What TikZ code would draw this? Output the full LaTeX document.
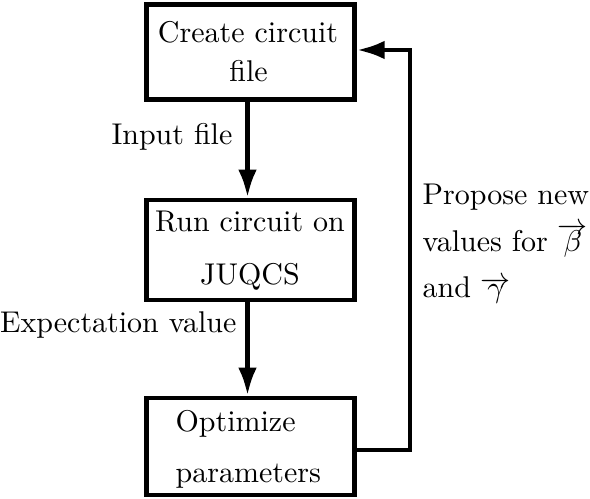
\documentclass[tikz,border=0pt]{standalone}
\usetikzlibrary{arrows.meta}
\begin{document}
\begin{tikzpicture}[x=0.3333pt,y=-0.3333pt,
  box/.style={draw, line width=1.6pt, minimum width=69.2pt, inner sep=0pt},
  conn/.style={line width=1.6pt, -{Latex[length=9.3pt,width=6.2pt]}},
  lab/.style={inner sep=0pt}]
\useasboundingbox (0,0) rectangle (590,499);
% boxes
\node[box, minimum height=31.7pt] (b1) at (250.5,52) {};
\node[box, minimum height=33.3pt] (b2) at (250.5,250) {};
\node[box, minimum height=32.3pt] (b3) at (250.5,446.5) {};
% box texts
\node[lab, anchor=base] (t1a) at (248,43) {Create circuit};
\node[lab, anchor=base] (t1b) at (248.5,82) {file};
\node[lab, anchor=base] (t2a) at (250,232) {Run circuit on};
\node[lab, anchor=base] (t2b) at (250,285) {JUQCS};
\node[lab, anchor=base west] (t3a) at (175,432) {Optimize};
\node[lab, anchor=base west] (t3b) at (175,483) {parameters};
% connectors
\draw[conn] ([xshift=-1pt]b1.south) -- ([xshift=-1pt]b2.north);
\draw[conn] ([xshift=-1pt]b2.south) -- ([xshift=-1pt]b3.north);
\coordinate (c1) at (410,50);
\draw[conn] (b3.east |- 0,450) -| (c1) -- (b1.east |- c1);
% edge labels
\node[lab, anchor=base east] (l1) at (233,145) {Input file};
\node[lab, anchor=base east] (l2) at (237,333) {Expectation value};
\node[lab, anchor=base west] (l3a) at (422,205) {Propose new};
\node[lab, anchor=base west] (l3b) at (422,252) {values for $\overrightarrow{\beta}$};
\node[lab, anchor=base west] (l3c) at (422,298) {and $\overrightarrow{\gamma}$};
\end{tikzpicture}
\end{document}
